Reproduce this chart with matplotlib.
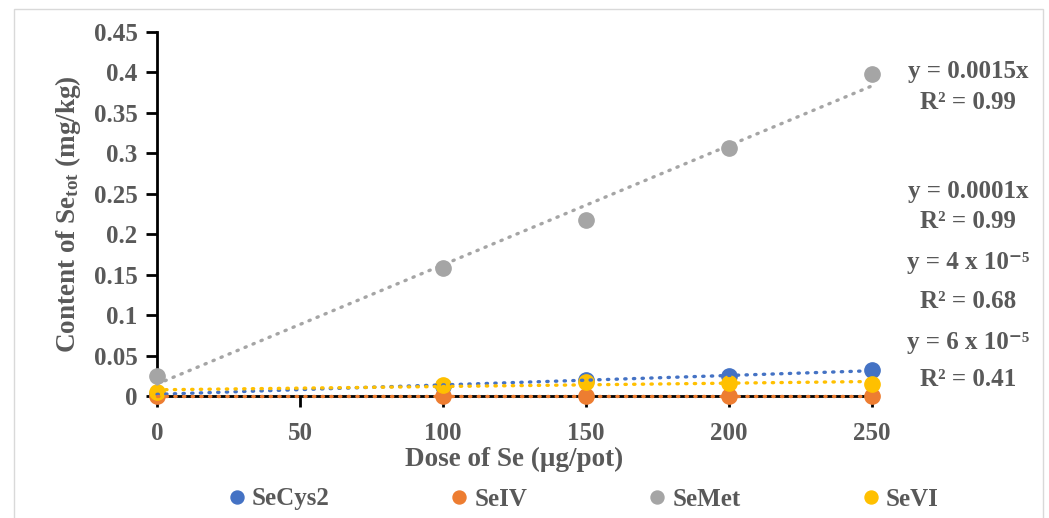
import numpy as np
import matplotlib
matplotlib.use("Agg")
import matplotlib.pyplot as plt
from matplotlib.patches import Rectangle

plt.rcParams['font.family'] = ['Liberation Serif', 'DejaVu Serif']
plt.rcParams['font.weight'] = 'bold'
plt.rcParams['mathtext.fontset'] = 'custom'
plt.rcParams['mathtext.bf'] = 'Liberation Serif:bold'
plt.rcParams['mathtext.rm'] = 'Liberation Serif:bold'
plt.rcParams['mathtext.default'] = 'bf'

dose = [0, 100, 150, 200, 250]
secys2 = [0.003, 0.012, 0.020, 0.025, 0.032]
seiv = [0.0003, 0.0003, 0.0003, 0.0003, 0.0003]
semet = [0.025, 0.158, 0.218, 0.307, 0.398]
sevi = [0.005, 0.014, 0.017, 0.016, 0.015]

names = ['SeCys2', 'SeIV', 'SeMet', 'SeVI']
colors = ['#4472C4', '#ED7D31', '#A5A5A5', '#FFC000']
series = [secys2, seiv, semet, sevi]

eq_texts = [("y = 0.0015x", "R² = 0.99"),
            ("y = 0.0001x", "R² = 0.99"),
            ("y = 4 x 10⁻⁵", "R² = 0.68"),
            ("y = 6 x 10⁻⁵", "R² = 0.41")]

TXT = '#595959'
FS = 18
LFS = 19.5

fig = plt.figure(figsize=(10.49, 5.18), dpi=100)
ax = fig.add_axes([157/1049, 1-396/518, (872-157)/1049, (396-32)/518])

x = np.array(dose, dtype=float)
for name, col, ys in zip(names, colors, series):
    ys = np.array(ys)
    ax.plot(x, ys, 'o', color=col, markersize=11, clip_on=False, zorder=4, label=name)
for name, col, ys in zip(names, colors, series):
    ys = np.array(ys)
    k, b = np.polyfit(x, ys, 1)
    xx = np.array([0, 250.0])
    ax.plot(xx, k*xx + b, color=col, lw=2.4, linestyle=(0, (0.4, 2.2)),
            dash_capstyle='round', zorder=5, clip_on=False)

ax.set_xlim(0, 250)
ax.set_ylim(0, 0.45)
ax.set_xticks([0, 50, 100, 150, 200, 250])
ax.set_yticks(np.arange(0, 0.451, 0.05))
ax.set_yticklabels(['0', '0.05', '0.1', '0.15', '0.2', '0.25', '0.3', '0.35', '0.4', '0.45'])
for s in ['top', 'right']:
    ax.spines[s].set_visible(False)
for s in ['left', 'bottom']:
    ax.spines[s].set_linewidth(2)
    ax.spines[s].set_color('black')
ax.tick_params(axis='both', direction='out', length=8, width=2, color='black',
               labelsize=FS, labelcolor=TXT)
ax.tick_params(axis='x', pad=11)
ax.tick_params(axis='y', pad=6)

ax.set_xlabel('Dose of Se (μg/pot)', fontsize=LFS, color=TXT, labelpad=1, weight='bold')
ax.set_ylabel('Content of Se$_{tot}$ (mg/kg)', fontsize=LFS, color=TXT, labelpad=8, weight='bold')

ypos = [(72, 103), (192, 222), (262, 301), (343, 379)]
for (e, r), (y1, y2) in zip(eq_texts, ypos):
    fig.text(968/1049, 1-y1/518, e, ha='center', va='center', fontsize=FS, color=TXT, weight='bold')
    fig.text(968/1049, 1-y2/518, r, ha='center', va='center', fontsize=FS, color=TXT, weight='bold')

leg = fig.legend(loc='center', bbox_to_anchor=(580/1049, 1-499/518), ncol=4, frameon=False,
                 fontsize=FS, labelcolor=TXT, handletextpad=0.0, columnspacing=4.6,
                 markerscale=0.85, handlelength=1.2)

fig.patches.append(Rectangle((14/1049, -0.05), (1043-14)/1049, 1-9/518+0.05,
                             transform=fig.transFigure, fill=False, edgecolor='#D9D9D9', lw=1))

fig.savefig('out.png', dpi=100)
